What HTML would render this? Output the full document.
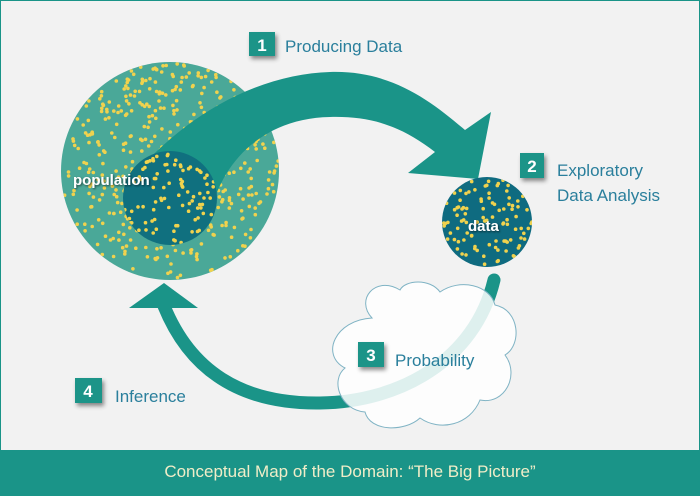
<!DOCTYPE html>
<html><head><meta charset="utf-8"><style>
html,body{margin:0;padding:0;background:#f2f2f2}
svg{display:block}
text{font-family:"Liberation Sans",sans-serif}
</style></head><body>
<svg id="s" width="700" height="496" viewBox="0 0 700 496" xmlns="http://www.w3.org/2000/svg">
<defs>
<filter id="sh" x="-50%" y="-50%" width="200%" height="200%"><feDropShadow dx="2" dy="3" stdDeviation="2" flood-color="#000" flood-opacity="0.45"/></filter>
<filter id="ts"><feDropShadow dx="1" dy="1" stdDeviation="1" flood-color="#000" flood-opacity="0.6"/></filter>
<clipPath id="cb"><circle cx="170" cy="171" r="109"/></clipPath>
<clipPath id="ci"><circle cx="170" cy="198" r="47"/></clipPath>
<clipPath id="cd"><circle cx="487" cy="222" r="45"/></clipPath>
</defs>
<rect x="0" y="0" width="700" height="496" fill="#f2f2f2" stroke="#1a9488" stroke-width="2"/>
<circle cx="170" cy="171" r="109" fill="#4aa898"/>
<g id="dotsBig" clip-path="url(#cb)"></g>
<path d="M130,180 C190,108 265,74 330,72 C390,70 430,100 465,130 L491,112 L478,179 L408,173 L435,152 C400,125 370,116 330,117 C265,118 222,160 210,215 L160,215 Z" fill="#1a9488"/>
<circle cx="170" cy="198" r="47" fill="#10707f"/>
<g id="dotsIn" clip-path="url(#ci)"></g>
<circle cx="487" cy="222" r="45" fill="#0f6b80"/>
<g id="dotsData" clip-path="url(#cd)"></g>
<path d="M494,280 C475,360 400,402 320,403 C240,404 190,370 164,306" fill="none" stroke="#1a9488" stroke-width="13" stroke-linecap="round"/>
<polygon points="164,283 129,308 198,308" fill="#1a9488"/>
<path d="M372,318 C355,300 375,275 400,290 C405,280 430,278 440,292 C460,278 490,285 495,305 C520,310 522,345 505,355 C520,375 505,405 480,400 C470,425 440,432 420,418 C405,432 370,432 365,412 C340,410 330,380 345,368 C320,355 335,320 372,318 Z" fill="#fff" fill-opacity="0.86" stroke="#7fb3c4" stroke-width="1"/>
<text x="73" y="185" fill="#fff" font-size="15" font-weight="bold" filter="url(#ts)">population</text>
<text x="468" y="231" fill="#fff" font-size="15" font-weight="bold" filter="url(#ts)">data</text>
<g font-size="17" fill="#2a7f9c">
<rect x="249" y="32" width="26" height="24" fill="#1a9488" filter="url(#sh)"/>
<text x="262" y="51" fill="#fff" font-weight="bold" text-anchor="middle">1</text>
<text x="285" y="52">Producing Data</text>
<rect x="520" y="153" width="24" height="25" fill="#1a9488" filter="url(#sh)"/>
<text x="532" y="172" fill="#fff" font-weight="bold" text-anchor="middle">2</text>
<text x="557" y="176">Exploratory</text>
<text x="557" y="201">Data Analysis</text>
<rect x="358" y="342" width="26" height="25" fill="#1a9488" filter="url(#sh)"/>
<text x="371" y="361" fill="#fff" font-weight="bold" text-anchor="middle">3</text>
<text x="395" y="366">Probability</text>
<rect x="75" y="378" width="27" height="25" fill="#1a9488" filter="url(#sh)"/>
<text x="88" y="397" fill="#fff" font-weight="bold" text-anchor="middle">4</text>
<text x="115" y="402">Inference</text>
</g>
<rect x="0" y="450" width="700" height="46" fill="#1a9488"/>
<text x="350" y="477" fill="#f0edc8" font-size="17" text-anchor="middle">Conceptual Map of the Domain: “The Big Picture”</text>
</svg>
<script>
var seed=7;function r(){seed=(seed*16807)%2147483647;return seed/2147483647;}
var ns="http://www.w3.org/2000/svg";
function dots(id,cx,cy,R,n){var g=document.getElementById(id);for(var i=0;i<n;i++){var a=r()*6.283,d=Math.sqrt(r())*R;var c=document.createElementNS(ns,"circle");c.setAttribute("cx",(cx+Math.cos(a)*d).toFixed(1));c.setAttribute("cy",(cy+Math.sin(a)*d).toFixed(1));c.setAttribute("r","1.8");c.setAttribute("fill","#f0d24e");g.appendChild(c);}}
dots("dotsBig",170,171,109,480);dots("dotsIn",170,198,47,90);dots("dotsData",487,222,45,100);
</script>
</body></html>
